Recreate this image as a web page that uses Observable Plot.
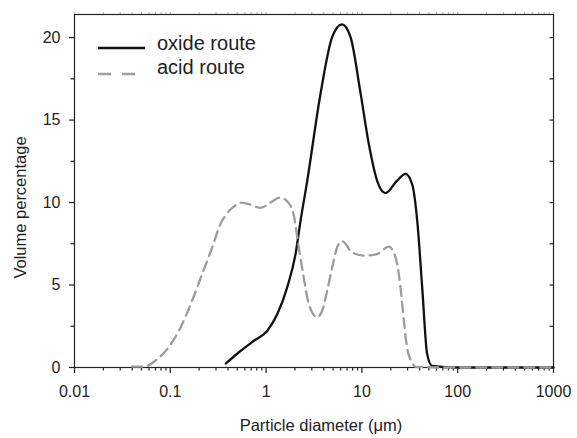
<!DOCTYPE html>
<html><head><meta charset="utf-8">
<script src="https://cdn.jsdelivr.net/npm/d3@7"></script>
<script src="https://cdn.jsdelivr.net/npm/@observablehq/plot@0.6"></script>
<style>
body{margin:0;background:#fff}
svg{font-family:"Liberation Sans",Arial,sans-serif}
</style>
</head><body><div id="chart"></div><script>
// ---- data ----
const oxideX = [0.38, 0.54, 0.745, 1.03, 1.31, 1.66, 2.03, 2.29, 2.69, 3.70, 4.9, 6.2, 7.6, 9.7, 11.8, 14.4, 17.6, 23.3, 28.5, 33.5, 37.8, 42.6, 48, 54, 100, 1000];
const oxideY = [0.24, 1.0, 1.62, 2.23, 3.24, 4.86, 6.88, 8.9, 11.33, 16.6, 20.04, 20.8, 20.04, 16.6, 13.56, 11.33, 10.57, 11.33, 11.74, 11.1, 8.9, 4.86, 0.81, 0.1, 0, 0];
const acidX = [0.04, 0.053, 0.073, 0.093, 0.128, 0.169, 0.215, 0.274, 0.334, 0.38, 0.45, 0.541, 0.687, 0.874, 1.11, 1.41, 1.66, 1.95, 2.19, 2.47, 2.79, 3.41, 3.85, 4.34, 4.9, 5.52, 6.22, 7.92, 10.5, 14.4, 19.1, 21.5, 23.3, 25.3, 27.4, 29.6, 33.5, 36.3, 100, 1000];
const acidY = [0.05, 0.05, 0.51, 1.12, 2.43, 4.05, 5.67, 7.29, 8.7, 9.25, 9.7, 10.0, 9.88, 9.68, 10.0, 10.3, 10.08, 9.2, 7.3, 5.46, 3.85, 3.05, 3.44, 4.66, 6.07, 7.29, 7.65, 6.98, 6.78, 6.88, 7.33, 6.98, 6.28, 4.86, 2.84, 1.21, 0.3, 0.04, 0, 0];
const seriesNames = ["oxide route", "acid route"];
const xMajor = [0.01, 0.1, 1, 10, 100, 1000];
const xLabels = ["0.01", "0.1", "1", "10", "100", "1000"];
const xMinor = [0.02,0.03,0.04,0.05,0.06,0.07,0.08,0.09,0.2,0.3,0.4,0.5,0.6,0.7,0.8,0.9,2,3,4,5,6,7,8,9,20,30,40,50,60,70,80,90,200,300,400,500,600,700,800,900];
const yMajor = [0, 5, 10, 15, 20];
const yMinor = [2.5, 7.5, 12.5, 17.5];
const xTitle = "Particle diameter (\u03bcm)";
const yTitle = "Volume percentage";

const oxide = oxideX.map((x, i) => ({x, y: oxideY[i]}));
const acid = acidX.map((x, i) => ({x, y: acidY[i]}));

// geometry of the frame (pixels) for tick lengths
const W = 577, H = 438, mL = 74, mR = 24, mT = 14, mB = 71;
const yMax = 21.4;
const pxPerY = (H - mT - mB) / yMax;
const pxPerDecade = (W - mL - mR) / 5;
const xOff = (px) => Math.pow(10, px / pxPerDecade);
const ink = "#222";

const chart = Plot.plot({
  width: W, height: H,
  marginLeft: mL, marginRight: mR, marginTop: mT, marginBottom: mB,
  x: {type: "log", domain: [0.01, 1000]},
  y: {domain: [0, yMax]},
  style: {fontFamily: '"Liberation Sans", Arial, sans-serif', fontSize: "16px", color: ink, background: "#fff"},
  marks: [
    Plot.axisX({ticks: xMajor, tickSize: 0, tickPadding: 18, tickFormat: d => xLabels[xMajor.indexOf(d)], label: null, fontSize: 16}),
    Plot.axisY({ticks: yMajor, tickSize: 0, tickPadding: 14, label: null, fontSize: 16}),
    // bottom ticks (outward)
    Plot.ruleX(xMajor, {x: d => d, y1: 0, y2: -6 / pxPerY, stroke: ink, strokeWidth: 1.2}),
    Plot.ruleX(xMinor, {x: d => d, y1: 0, y2: -3.5 / pxPerY, stroke: ink, strokeWidth: 1.2}),
    // top ticks (faint)
    Plot.ruleX(xMajor.concat(xMinor), {x: d => d, y1: yMax, y2: yMax + 2 / pxPerY, stroke: ink, strokeOpacity: 0.35}),
    // left ticks (outward)
    Plot.ruleY(yMajor, {y: d => d, x1: 0.01, x2: 0.01 / xOff(5), stroke: ink, strokeWidth: 1.2}),
    Plot.ruleY(yMinor, {y: d => d, x1: 0.01, x2: 0.01 / xOff(3.5), stroke: ink, strokeWidth: 1.2}),
    // right ticks (inward)
    Plot.ruleY(yMajor.concat(yMinor), {y: d => d, x1: 1000, x2: 1000 / xOff(3.5), stroke: ink, strokeWidth: 1.2}),
    Plot.frame({stroke: ink, strokeWidth: 1.2}),
    Plot.line(oxide, {x: "x", y: "y", curve: "monotone-x", stroke: "#111", strokeWidth: 2.3}),
    Plot.line(acid, {x: "x", y: "y", curve: "monotone-x", stroke: "#9c9c9c", strokeWidth: 2.3, strokeDasharray: "10,6"})
  ]
});
document.getElementById("chart").appendChild(chart);

// titles and legend
const svg = d3.select(chart);
svg.append("text").attr("x", 321).attr("y", 431).attr("text-anchor", "middle")
  .attr("font-size", 16.5).attr("fill", ink).text(xTitle);
svg.append("text").attr("transform", "translate(25.5,207.5) rotate(-90)").attr("text-anchor", "middle")
  .attr("font-size", 16.5).attr("fill", ink).text(yTitle);
const lg = svg.append("g");
lg.append("line").attr("x1", 98).attr("x2", 145).attr("y1", 48).attr("y2", 48)
  .attr("stroke", "#111").attr("stroke-width", 2.4);
lg.append("line").attr("x1", 98).attr("x2", 136).attr("y1", 74).attr("y2", 74)
  .attr("stroke", "#9c9c9c").attr("stroke-width", 2.4).attr("stroke-dasharray", "13,11");
lg.append("text").attr("x", 157).attr("y", 50).attr("text-anchor", "start").attr("font-size", 20).attr("fill", ink).text(seriesNames[0]);
lg.append("text").attr("x", 157).attr("y", 74).attr("text-anchor", "start").attr("font-size", 20).attr("fill", ink).text(seriesNames[1]);
</script></body></html>
